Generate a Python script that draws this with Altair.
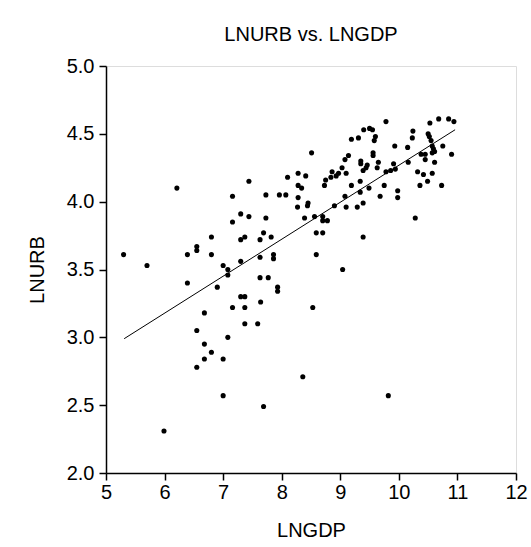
import altair as alt
import pandas as pd

lngdp = [5.30, 5.70, 5.99, 6.21, 6.39, 6.39, 6.55, 6.55, 6.55, 6.55,
         6.68, 6.68, 6.68, 6.80, 6.80, 6.80, 6.90, 7.00, 7.00, 7.00,
         7.08, 7.08, 7.08, 7.16, 7.16, 7.16, 7.30, 7.30, 7.30, 7.30,
         7.37, 7.37, 7.37, 7.37, 7.44, 7.44, 7.59, 7.63, 7.63, 7.63,
         7.64, 7.69, 7.69, 7.73, 7.73, 7.77, 7.82, 7.86, 7.86, 7.93,
         7.93, 7.96, 8.07, 8.10, 8.27, 8.28, 8.28, 8.28, 8.34, 8.36,
         8.39, 8.41, 8.44, 8.45, 8.51, 8.53, 8.56, 8.59, 8.59, 8.70,
         8.70, 8.70, 8.73, 8.75, 8.78, 8.84, 8.86, 8.90, 8.93, 8.97,
         9.03, 9.04, 9.08, 9.08, 9.10, 9.10, 9.14, 9.19, 9.19, 9.29,
         9.31, 9.34, 9.34, 9.35, 9.35, 9.39, 9.39, 9.39, 9.40, 9.44,
         9.46, 9.49, 9.50, 9.55, 9.56, 9.56, 9.58, 9.60, 9.63, 9.65,
         9.68, 9.75, 9.78, 9.78, 9.82, 9.86, 9.91, 9.93, 9.94, 9.98,
         9.98, 10.15, 10.16, 10.23, 10.24, 10.28, 10.32, 10.36, 10.38, 10.42,
         10.45, 10.45, 10.49, 10.50, 10.52, 10.53, 10.55, 10.57, 10.57, 10.59,
         10.57, 10.61, 10.61, 10.68, 10.73, 10.75, 10.85, 10.90, 10.94]
lnurb = [3.61, 3.53, 2.31, 4.10, 3.61, 3.40, 3.67, 3.64, 3.05, 2.78,
         3.18, 2.95, 2.84, 3.74, 3.61, 2.89, 3.37, 3.53, 2.84, 2.57,
         3.50, 3.46, 3.00, 4.04, 3.85, 3.22, 3.91, 3.72, 3.56, 3.30,
         3.74, 3.30, 3.22, 3.10, 4.15, 3.89, 3.10, 3.72, 3.59, 3.44,
         3.26, 3.77, 2.49, 4.05, 3.88, 3.44, 3.74, 3.61, 3.58, 3.37,
         3.34, 4.05, 4.05, 4.18, 3.96, 4.21, 4.12, 4.03, 4.10, 2.71,
         3.88, 4.19, 3.97, 3.99, 4.36, 3.22, 3.89, 3.77, 3.61, 3.89,
         3.86, 3.77, 4.12, 4.16, 3.86, 4.18, 4.22, 3.97, 4.19, 4.21,
         4.25, 3.50, 4.31, 4.04, 4.21, 3.96, 4.34, 4.46, 4.12, 3.96,
         4.47, 4.15, 4.07, 4.30, 4.28, 4.23, 3.99, 3.74, 4.53, 4.25,
         4.27, 4.10, 4.54, 4.53, 4.36, 4.34, 4.45, 4.48, 4.25, 4.29,
         4.04, 4.12, 4.59, 4.22, 2.57, 4.23, 4.28, 4.41, 4.24, 4.08,
         4.03, 4.40, 4.29, 4.47, 4.52, 3.88, 4.22, 4.12, 4.35, 4.20,
         4.35, 4.31, 4.15, 4.50, 4.48, 4.58, 4.45, 4.41, 4.21, 4.39,
         4.36, 4.37, 4.29, 4.61, 4.12, 4.41, 4.61, 4.35, 4.59]

fit_x = [5.31, 10.96]
fit_y = [2.99, 4.53]

x_ticks = [5, 6, 7, 8, 9, 10, 11, 12]
y_ticks = [2.0, 2.5, 3.0, 3.5, 4.0, 4.5, 5.0]

pts = pd.DataFrame({"LNGDP": lngdp, "LNURB": lnurb})
fit = pd.DataFrame({"LNGDP": fit_x, "LNURB": fit_y})

FONT = "Liberation Sans"
FS = 20

xscale = alt.Scale(domain=[5, 12], nice=False, zero=False)
yscale = alt.Scale(domain=[2, 5], nice=False, zero=False)

common = dict(grid=False, domainColor="black", tickColor="black",
              domainWidth=1.5, tickWidth=1.5, tickSize=7,
              labelColor="black", labelFont=FONT, labelFontSize=FS,
              titleFont=FONT, titleFontSize=FS, titleFontWeight="normal",
              titleColor="black", labelFlush=False, labelOverlap=False)

xaxis = alt.Axis(values=x_ticks, format="d", title="LNGDP", labelPadding=2,
                 titleY=57, titleBaseline="middle", titleAlign="center",
                 titleX=205, **common)
yaxis = alt.Axis(values=y_ticks, format=".1f", title="LNURB", labelPadding=5,
                 titleX=-69, titleY=203.5, titleAngle=270,
                 titleBaseline="middle", titleAlign="center", **common)

points = alt.Chart(pts).mark_circle(size=26, color="black", opacity=1).encode(
    x=alt.X("LNGDP:Q", scale=xscale, axis=xaxis),
    y=alt.Y("LNURB:Q", scale=yscale, axis=yaxis),
)
line = alt.Chart(fit).mark_line(color="black", strokeWidth=1).encode(
    x=alt.X("LNGDP:Q", scale=xscale, axis=xaxis),
    y=alt.Y("LNURB:Q", scale=yscale, axis=yaxis),
)

chart = alt.layer(points, line).properties(
    width=410,
    height=407,
    title=alt.TitleParams(text="LNURB vs. LNGDP", font=FONT, fontSize=FS,
                          fontWeight="normal", color="black", anchor="middle",
                          baseline="middle", offset=1, frame="group"),
    autosize=alt.AutoSizeParams(type="none"),
    padding={"left": 106, "top": 66, "right": 15, "bottom": 74},
).configure_view(stroke="black", strokeWidth=1.5).configure(background="white")

chart.save("out.html", embed_options={"renderer": "svg", "actions": False})
